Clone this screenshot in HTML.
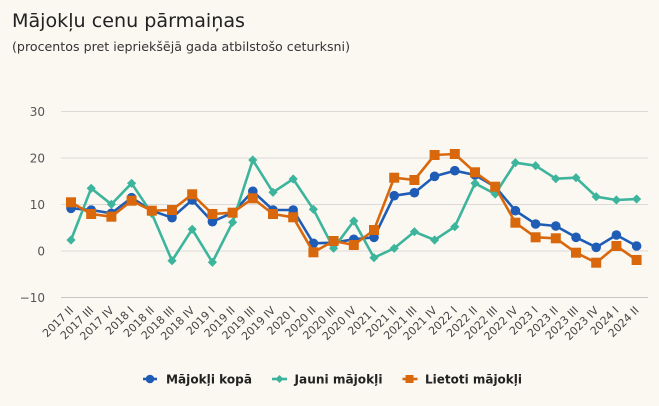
<!DOCTYPE html>
<html>
<head>
<meta charset="utf-8">
<style>
html,body{margin:0;padding:0;background:#fbf8f2;}
svg{display:block;}
text{font-family:"DejaVu Sans","Liberation Sans",sans-serif;}
</style>
</head>
<body>
<svg width="659" height="406" viewBox="0 0 659 406" xmlns="http://www.w3.org/2000/svg">
<rect width="659" height="406" fill="#fbf8f2"/>
<defs>
<circle id="c" r="4.8" fill="#1f5cb6"/>
<path id="d" d="M0,-4.6 L4.6,0 L0,4.6 L-4.6,0 Z" fill="#3db49c"/>
<rect id="s" x="-5" y="-5" width="10" height="10" fill="#d9680c"/>
</defs>

<text x="12" y="27" font-size="19" fill="#222" textLength="233" lengthAdjust="spacingAndGlyphs">Mājokļu cenu pārmaiņas</text>
<text x="12" y="51" font-size="12" fill="#333" textLength="338" lengthAdjust="spacingAndGlyphs">(procentos pret iepriekšējā gada atbilstošo ceturksni)</text>

<g stroke="#dcdad6" stroke-width="1">
<line x1="61" y1="111.5" x2="648" y2="111.5"/>
<line x1="61" y1="158" x2="648" y2="158"/>
<line x1="61" y1="204.5" x2="648" y2="204.5"/>
<line x1="61" y1="251" x2="648" y2="251"/>
</g>
<line x1="61" y1="297.5" x2="648" y2="297.5" stroke="#c8c6c2" stroke-width="1"/>

<g font-size="12" fill="#555" text-anchor="end">
<text x="45" y="116">30</text>
<text x="45" y="162.5">20</text>
<text x="45" y="209">10</text>
<text x="45" y="255.5">0</text>
<text x="45" y="302">−10</text>
</g>

<polyline fill="none" stroke="#1f5cb6" stroke-width="2.6" stroke-linejoin="round" points="71,208.3 91.2,210 111.4,213.3 131.6,197.7 151.8,210.7 172,217.7 192.2,200 212.4,221.7 232.6,212.7 252.8,191.3 273,210 293.2,210 313.4,243.3 333.6,242.7 353.8,239.3 374,237.3 394.2,195.7 414.4,192.7 434.6,176.3 454.8,170.7 475,175 495.2,186.7 515.4,210.7 535.6,224 555.8,226 576,237.3 596.2,247.3 616.4,235 636.6,246"/>
<g>
<use href="#c" x="71" y="208.3"/><use href="#c" x="91.2" y="210"/><use href="#c" x="111.4" y="213.3"/><use href="#c" x="131.6" y="197.7"/><use href="#c" x="151.8" y="210.7"/><use href="#c" x="172" y="217.7"/><use href="#c" x="192.2" y="200"/><use href="#c" x="212.4" y="221.7"/><use href="#c" x="232.6" y="212.7"/><use href="#c" x="252.8" y="191.3"/><use href="#c" x="273" y="210"/><use href="#c" x="293.2" y="210"/><use href="#c" x="313.4" y="243.3"/><use href="#c" x="333.6" y="242.7"/><use href="#c" x="353.8" y="239.3"/><use href="#c" x="374" y="237.3"/><use href="#c" x="394.2" y="195.7"/><use href="#c" x="414.4" y="192.7"/><use href="#c" x="434.6" y="176.3"/><use href="#c" x="454.8" y="170.7"/><use href="#c" x="475" y="175"/><use href="#c" x="495.2" y="186.7"/><use href="#c" x="515.4" y="210.7"/><use href="#c" x="535.6" y="224"/><use href="#c" x="555.8" y="226"/><use href="#c" x="576" y="237.3"/><use href="#c" x="596.2" y="247.3"/><use href="#c" x="616.4" y="235"/><use href="#c" x="636.6" y="246"/>
</g>

<polyline fill="none" stroke="#3db49c" stroke-width="2.6" stroke-linejoin="round" points="71,240 91.2,188.3 111.4,204.3 131.6,183.3 151.8,213.5 172,260.7 192.2,229.3 212.4,262.3 232.6,222.3 252.8,160 273,192.3 293.2,179 313.4,209.3 333.6,248.3 353.8,221 374,257.7 394.2,248.3 414.4,231.7 434.6,240 454.8,226.7 475,183.3 495.2,194 515.4,162.7 535.6,165.7 555.8,178.7 576,177.7 596.2,196.7 616.4,200 636.6,199"/>
<g>
<use href="#d" x="71" y="240"/><use href="#d" x="91.2" y="188.3"/><use href="#d" x="111.4" y="204.3"/><use href="#d" x="131.6" y="183.3"/><use href="#d" x="151.8" y="213.5"/><use href="#d" x="172" y="260.7"/><use href="#d" x="192.2" y="229.3"/><use href="#d" x="212.4" y="262.3"/><use href="#d" x="232.6" y="222.3"/><use href="#d" x="252.8" y="160"/><use href="#d" x="273" y="192.3"/><use href="#d" x="293.2" y="179"/><use href="#d" x="313.4" y="209.3"/><use href="#d" x="333.6" y="248.3"/><use href="#d" x="353.8" y="221"/><use href="#d" x="374" y="257.7"/><use href="#d" x="394.2" y="248.3"/><use href="#d" x="414.4" y="231.7"/><use href="#d" x="434.6" y="240"/><use href="#d" x="454.8" y="226.7"/><use href="#d" x="475" y="183.3"/><use href="#d" x="495.2" y="194"/><use href="#d" x="515.4" y="162.7"/><use href="#d" x="535.6" y="165.7"/><use href="#d" x="555.8" y="178.7"/><use href="#d" x="576" y="177.7"/><use href="#d" x="596.2" y="196.7"/><use href="#d" x="616.4" y="200"/><use href="#d" x="636.6" y="199"/>
</g>

<polyline fill="none" stroke="#d9680c" stroke-width="2.6" stroke-linejoin="round" points="71,202.3 91.2,214 111.4,216.7 131.6,200.7 151.8,210.7 172,210 192.2,194.3 212.4,214 232.6,212.7 252.8,198.3 273,214 293.2,217.3 313.4,252.3 333.6,241 353.8,245 374,230 394.2,177.7 414.4,180 434.6,155 454.8,154 475,172.3 495.2,186.7 515.4,222.7 535.6,237.3 555.8,238.3 576,252.7 596.2,262.7 616.4,246 636.6,260"/>
<g>
<use href="#s" x="71" y="202.3"/><use href="#s" x="91.2" y="214"/><use href="#s" x="111.4" y="216.7"/><use href="#s" x="131.6" y="200.7"/><use href="#s" x="151.8" y="210.7"/><use href="#s" x="172" y="210"/><use href="#s" x="192.2" y="194.3"/><use href="#s" x="212.4" y="214"/><use href="#s" x="232.6" y="212.7"/><use href="#s" x="252.8" y="198.3"/><use href="#s" x="273" y="214"/><use href="#s" x="293.2" y="217.3"/><use href="#s" x="313.4" y="252.3"/><use href="#s" x="333.6" y="241"/><use href="#s" x="353.8" y="245"/><use href="#s" x="374" y="230"/><use href="#s" x="394.2" y="177.7"/><use href="#s" x="414.4" y="180"/><use href="#s" x="434.6" y="155"/><use href="#s" x="454.8" y="154"/><use href="#s" x="475" y="172.3"/><use href="#s" x="495.2" y="186.7"/><use href="#s" x="515.4" y="222.7"/><use href="#s" x="535.6" y="237.3"/><use href="#s" x="555.8" y="238.3"/><use href="#s" x="576" y="252.7"/><use href="#s" x="596.2" y="262.7"/><use href="#s" x="616.4" y="246"/><use href="#s" x="636.6" y="260"/>
</g>

<g font-size="11" fill="#444" text-anchor="end">
<text transform="translate(74,311) rotate(-45)">2017 II</text>
<text transform="translate(94.2,311) rotate(-45)">2017 III</text>
<text transform="translate(114.4,311) rotate(-45)">2017 IV</text>
<text transform="translate(134.6,311) rotate(-45)">2018 I</text>
<text transform="translate(154.8,311) rotate(-45)">2018 II</text>
<text transform="translate(175,311) rotate(-45)">2018 III</text>
<text transform="translate(195.2,311) rotate(-45)">2018 IV</text>
<text transform="translate(215.4,311) rotate(-45)">2019 I</text>
<text transform="translate(235.6,311) rotate(-45)">2019 II</text>
<text transform="translate(255.8,311) rotate(-45)">2019 III</text>
<text transform="translate(276,311) rotate(-45)">2019 IV</text>
<text transform="translate(296.2,311) rotate(-45)">2020 I</text>
<text transform="translate(316.4,311) rotate(-45)">2020 II</text>
<text transform="translate(336.6,311) rotate(-45)">2020 III</text>
<text transform="translate(356.8,311) rotate(-45)">2020 IV</text>
<text transform="translate(377,311) rotate(-45)">2021 I</text>
<text transform="translate(397.2,311) rotate(-45)">2021 II</text>
<text transform="translate(417.4,311) rotate(-45)">2021 III</text>
<text transform="translate(437.6,311) rotate(-45)">2021 IV</text>
<text transform="translate(457.8,311) rotate(-45)">2022 I</text>
<text transform="translate(478,311) rotate(-45)">2022 II</text>
<text transform="translate(498.2,311) rotate(-45)">2022 III</text>
<text transform="translate(518.4,311) rotate(-45)">2022 IV</text>
<text transform="translate(538.6,311) rotate(-45)">2023 I</text>
<text transform="translate(558.8,311) rotate(-45)">2023 II</text>
<text transform="translate(579,311) rotate(-45)">2023 III</text>
<text transform="translate(599.2,311) rotate(-45)">2023 IV</text>
<text transform="translate(619.4,311) rotate(-45)">2024 I</text>
<text transform="translate(639.6,311) rotate(-45)">2024 II</text>
</g>

<g>
<line x1="143" y1="379" x2="157" y2="379" stroke="#1f5cb6" stroke-width="2.6"/>
<circle cx="150" cy="379" r="4.3" fill="#1f5cb6"/>
<text x="166" y="383.5" font-size="12.5" font-weight="bold" fill="#222" textLength="86" lengthAdjust="spacingAndGlyphs">Mājokļi kopā</text>
<line x1="272" y1="379" x2="287" y2="379" stroke="#3db49c" stroke-width="2.6"/>
<path d="M279.5,375 L283.5,379 L279.5,383 L275.5,379 Z" fill="#3db49c"/>
<text x="294.5" y="383.5" font-size="12.5" font-weight="bold" fill="#222" textLength="88" lengthAdjust="spacingAndGlyphs">Jauni mājokļi</text>
<line x1="402.5" y1="379" x2="417.5" y2="379" stroke="#d9680c" stroke-width="2.6"/>
<rect x="405.5" y="375" width="8" height="8" fill="#d9680c"/>
<text x="425" y="383.5" font-size="12.5" font-weight="bold" fill="#222" textLength="97" lengthAdjust="spacingAndGlyphs">Lietoti mājokļi</text>
</g>
</svg>
</body>
</html>
